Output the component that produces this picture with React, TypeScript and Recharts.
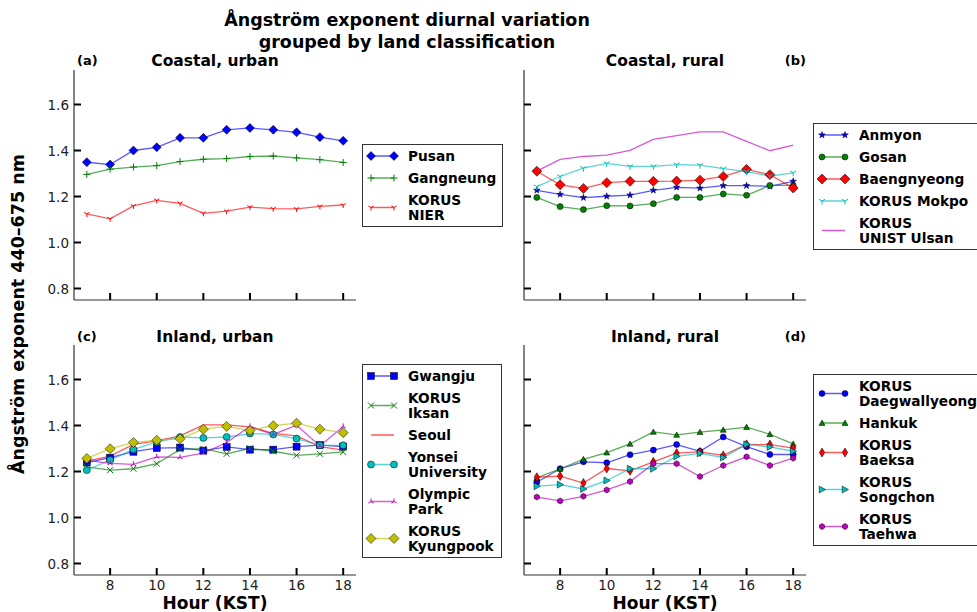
import React from 'react';
import { LineChart, Line, XAxis, YAxis } from 'recharts';

// hours of day (KST)
const hours = [7, 8, 9, 10, 11, 12, 13, 14, 15, 16, 17, 18];
const xTicks = [8, 10, 12, 14, 16, 18];
const yTicks = [0.8, 1.0, 1.2, 1.4, 1.6];

// (a) coastal, urban
const pusan = [1.349, 1.339, 1.4, 1.414, 1.455, 1.455, 1.49, 1.498, 1.49, 1.479, 1.458, 1.442];
const gangneung = [1.296, 1.319, 1.328, 1.334, 1.352, 1.362, 1.365, 1.374, 1.376, 1.368, 1.36, 1.348];
const korusNier = [1.124, 1.103, 1.159, 1.183, 1.17, 1.127, 1.136, 1.154, 1.147, 1.146, 1.157, 1.163];

// (b) coastal, rural
const anmyon = [1.227, 1.209, 1.195, 1.201, 1.206, 1.227, 1.24, 1.236, 1.247, 1.247, 1.244, 1.266];
const gosan = [1.196, 1.156, 1.143, 1.16, 1.159, 1.169, 1.196, 1.196, 1.211, 1.205, 1.248, 1.248];
const baengnyeong = [1.31, 1.251, 1.235, 1.26, 1.266, 1.266, 1.267, 1.271, 1.287, 1.318, 1.295, 1.237];
const korusMokpo = [1.243, 1.287, 1.323, 1.344, 1.331, 1.331, 1.339, 1.336, 1.321, 1.308, 1.289, 1.303];
const korusUlsan = [1.31, 1.361, 1.374, 1.38, 1.401, 1.448, 1.465, 1.481, 1.481, 1.44, 1.399, 1.423];

// (c) inland, urban
const gwangju = [1.239, 1.26, 1.286, 1.302, 1.304, 1.291, 1.307, 1.295, 1.295, 1.308, 1.315, 1.308];
const korusIksan = [1.22, 1.206, 1.212, 1.234, 1.296, 1.299, 1.277, 1.301, 1.288, 1.27, 1.277, 1.285];
const seoul = [1.245, 1.267, 1.318, 1.333, 1.355, 1.403, 1.403, 1.394, 1.366, 1.355, 1.308, 1.293];
const yonsei = [1.206, 1.25, 1.296, 1.328, 1.35, 1.346, 1.35, 1.365, 1.361, 1.343, 1.314, 1.314];
const olympicPark = [1.248, 1.235, 1.231, 1.264, 1.261, 1.28, 1.326, 1.396, 1.361, 1.401, 1.311, 1.396];
const korusKyungpook = [1.257, 1.299, 1.326, 1.336, 1.342, 1.384, 1.396, 1.378, 1.399, 1.41, 1.384, 1.369];

// (d) inland, rural
const daegwallyeong = [1.153, 1.212, 1.242, 1.238, 1.273, 1.293, 1.317, 1.288, 1.35, 1.308, 1.274, 1.274];
const hankuk = [1.172, 1.212, 1.253, 1.282, 1.32, 1.372, 1.359, 1.371, 1.381, 1.393, 1.362, 1.32];
const korusBaeksa = [1.175, 1.18, 1.15, 1.213, 1.203, 1.242, 1.28, 1.285, 1.27, 1.318, 1.317, 1.302];
const korusSongchon = [1.136, 1.143, 1.124, 1.161, 1.212, 1.212, 1.266, 1.279, 1.261, 1.318, 1.307, 1.288];
const korusTaehwa = [1.089, 1.072, 1.092, 1.12, 1.156, 1.234, 1.234, 1.178, 1.226, 1.264, 1.226, 1.258];

const FONT = '"DejaVu Sans", sans-serif';
const X_DOMAIN: [number, number] = [6.45, 18.55];
const Y_DOMAIN: [number, number] = [0.75, 1.75];

type Shape = 'D' | 'd' | 'o' | 's' | '^' | '>' | 'h' | '*' | '+' | 'x' | '1' | '2' | 'none';

interface Series {
  label: string;
  values: number[];
  color: string;
  shape: Shape;
  size: number;
}

function Marker({ shape, cx, cy, size, color }: { shape: Shape; cx: number; cy: number; size: number; color: string }) {
  const r = size / 2;
  const edge = { stroke: '#000', strokeWidth: 0.5, fill: color };
  const thin = { stroke: color, strokeWidth: 1, fill: 'none' };
  const pts = (arr: number[][]) => arr.map((p) => `${cx + p[0]},${cy + p[1]}`).join(' ');
  switch (shape) {
    case 'D':
      return <polygon points={pts([[0, -r], [r, 0], [0, r], [-r, 0]])} {...edge} />;
    case 'd':
      return <polygon points={pts([[0, -r], [r * 0.6, 0], [0, r], [-r * 0.6, 0]])} {...edge} />;
    case 'o':
      return <circle cx={cx} cy={cy} r={r} {...edge} />;
    case 's':
      return <rect x={cx - r} y={cy - r} width={size} height={size} {...edge} />;
    case '^':
      return <polygon points={pts([[0, -r], [r, r * 0.8], [-r, r * 0.8]])} {...edge} />;
    case '>':
      return <polygon points={pts([[r, 0], [-r * 0.8, -r], [-r * 0.8, r]])} {...edge} />;
    case 'h': {
      const h: number[][] = [];
      for (let k = 0; k < 6; k++) {
        const a = (Math.PI / 3) * k + Math.PI / 2;
        h.push([r * Math.cos(a), r * Math.sin(a)]);
      }
      return <polygon points={pts(h)} {...edge} />;
    }
    case '*': {
      const s: number[][] = [];
      for (let k = 0; k < 10; k++) {
        const a = (Math.PI / 5) * k - Math.PI / 2;
        const rr = k % 2 === 0 ? r : r * 0.4;
        s.push([rr * Math.cos(a), rr * Math.sin(a)]);
      }
      return <polygon points={pts(s)} {...edge} />;
    }
    case '+':
      return (
        <g {...thin}>
          <line x1={cx - r} y1={cy} x2={cx + r} y2={cy} />
          <line x1={cx} y1={cy - r} x2={cx} y2={cy + r} />
        </g>
      );
    case 'x':
      return (
        <g {...thin}>
          <line x1={cx - r} y1={cy - r} x2={cx + r} y2={cy + r} />
          <line x1={cx - r} y1={cy + r} x2={cx + r} y2={cy - r} />
        </g>
      );
    case '1':
      return (
        <g {...thin}>
          <line x1={cx} y1={cy} x2={cx} y2={cy + r} />
          <line x1={cx} y1={cy} x2={cx - r * 0.87} y2={cy - r * 0.5} />
          <line x1={cx} y1={cy} x2={cx + r * 0.87} y2={cy - r * 0.5} />
        </g>
      );
    case '2':
      return (
        <g {...thin}>
          <line x1={cx} y1={cy} x2={cx} y2={cy - r} />
          <line x1={cx} y1={cy} x2={cx - r * 0.87} y2={cy + r * 0.5} />
          <line x1={cx} y1={cy} x2={cx + r * 0.87} y2={cy + r * 0.5} />
        </g>
      );
    default:
      return null;
  }
}

const panelA: Series[] = [
  { label: 'Pusan', values: pusan, color: '#0000ff', shape: 'D', size: 9 },
  { label: 'Gangneung', values: gangneung, color: '#008000', shape: '+', size: 7 },
  { label: 'KORUS\nNIER', values: korusNier, color: '#ff0000', shape: '1', size: 6 },
];
const panelB: Series[] = [
  { label: 'Anmyon', values: anmyon, color: '#0000ff', shape: '*', size: 7 },
  { label: 'Gosan', values: gosan, color: '#008000', shape: 'o', size: 6 },
  { label: 'Baengnyeong', values: baengnyeong, color: '#ff0000', shape: 'D', size: 10 },
  { label: 'KORUS Mokpo', values: korusMokpo, color: '#00bfbf', shape: '1', size: 7 },
  { label: 'KORUS\nUNIST Ulsan', values: korusUlsan, color: '#bf00bf', shape: 'none', size: 0 },
];
const panelC: Series[] = [
  { label: 'Gwangju', values: gwangju, color: '#0000ff', shape: 's', size: 7 },
  { label: 'KORUS\nIksan', values: korusIksan, color: '#008000', shape: 'x', size: 6 },
  { label: 'Seoul', values: seoul, color: '#ff0000', shape: 'none', size: 0 },
  { label: 'Yonsei\nUniversity', values: yonsei, color: '#00bfbf', shape: 'o', size: 7 },
  { label: 'Olympic\nPark', values: olympicPark, color: '#bf00bf', shape: '2', size: 6 },
  { label: 'KORUS\nKyungpook', values: korusKyungpook, color: '#bfbf00', shape: 'D', size: 10 },
];
const panelD: Series[] = [
  { label: 'KORUS\nDaegwallyeong', values: daegwallyeong, color: '#0000ff', shape: 'o', size: 6 },
  { label: 'Hankuk', values: hankuk, color: '#008000', shape: '^', size: 6 },
  { label: 'KORUS\nBaeksa', values: korusBaeksa, color: '#ff0000', shape: 'd', size: 9 },
  { label: 'KORUS\nSongchon', values: korusSongchon, color: '#00bfbf', shape: '>', size: 7 },
  { label: 'KORUS\nTaehwa', values: korusTaehwa, color: '#bf00bf', shape: 'h', size: 6 },
];

const TICK_LEN = 7;

function Panel({
  left,
  top,
  width,
  height,
  series,
  xLabels,
  yLabels,
}: {
  left: number;
  top: number;
  width: number;
  height: number;
  series: Series[];
  xLabels: boolean;
  yLabels: boolean;
}) {
  const rows = hours.map((h, i) => {
    const row: Record<string, number> = { hour: h };
    series.forEach((s, j) => {
      row['s' + j] = s.values[i];
    });
    return row;
  });

  const bottomTick = (p: any) => (
    <g>
      <line x1={p.x} y1={p.y} x2={p.x} y2={p.y - TICK_LEN} stroke="#000" strokeWidth={2} />
      {xLabels && (
        <text x={p.x} y={p.y + 15} textAnchor="middle" fontSize={13.5} fill="#222" fontFamily={FONT}>
          {p.payload.value}
        </text>
      )}
    </g>
  );
  const topTick = (p: any) => (
    <line x1={p.x} y1={p.y} x2={p.x} y2={p.y + TICK_LEN} stroke="#000" strokeWidth={2} />
  );
  const leftTick = (p: any) => (
    <g>
      <line x1={p.x} y1={p.y} x2={p.x + TICK_LEN} y2={p.y} stroke="#000" strokeWidth={2} />
      {yLabels && (
        <text x={p.x - 5} y={p.y + 5} textAnchor="end" fontSize={13.5} fill="#222" fontFamily={FONT}>
          {Number(p.payload.value).toFixed(1)}
        </text>
      )}
    </g>
  );
  const rightTick = (p: any) => (
    <line x1={p.x} y1={p.y} x2={p.x - TICK_LEN} y2={p.y} stroke="#000" strokeWidth={2} />
  );
  const axisLine = { stroke: '#333', strokeWidth: 1.2 };

  return (
    <div style={{ position: 'absolute', left: left - 50, top: top - 10 }}>
      <LineChart
        width={width + 60}
        height={height + 40}
        data={rows}
        margin={{ top: 10, right: 10, bottom: 0, left: 0 }}
      >
        <XAxis
          xAxisId={0}
          dataKey="hour"
          type="number"
          domain={X_DOMAIN}
          ticks={xTicks}
          interval={0}
          allowDataOverflow
          height={30}
          tickSize={0}
          tickMargin={0}
          tickLine={false}
          axisLine={axisLine}
          tick={bottomTick}
        />
        <XAxis
          xAxisId="top"
          orientation="top"
          type="number"
          domain={X_DOMAIN}
          ticks={xTicks}
          interval={0}
          allowDataOverflow
          height={0}
          tickSize={0}
          tickMargin={0}
          tickLine={false}
          axisLine={axisLine}
          tick={topTick}
        />
        <YAxis
          yAxisId={0}
          type="number"
          domain={Y_DOMAIN}
          ticks={yTicks}
          interval={0}
          allowDataOverflow
          width={50}
          tickSize={0}
          tickMargin={0}
          tickLine={false}
          axisLine={axisLine}
          tick={leftTick}
        />
        <YAxis
          yAxisId="right"
          orientation="right"
          type="number"
          domain={Y_DOMAIN}
          ticks={yTicks}
          interval={0}
          allowDataOverflow
          width={0}
          tickSize={0}
          tickMargin={0}
          tickLine={false}
          axisLine={axisLine}
          tick={rightTick}
        />
        {series.map((s, j) => (
          <Line
            key={s.label}
            xAxisId={0}
            yAxisId={0}
            type="linear"
            dataKey={'s' + j}
            stroke={s.color}
            strokeOpacity={0.65}
            strokeWidth={1.3}
            isAnimationActive={false}
            activeDot={false}
            dot={
              s.shape === 'none'
                ? false
                : (p: any) => (
                    <Marker key={'m' + p.index} shape={s.shape} cx={p.cx} cy={p.cy} size={s.size} color={s.color} />
                  )
            }
          />
        ))}
      </LineChart>
    </div>
  );
}

function LegendBox({ left, top, width, series }: { left: number; top: number; width: number; series: Series[] }) {
  return (
    <div
      style={{
        position: 'absolute',
        left,
        top,
        width,
        border: '1px solid #333',
        background: '#fff',
        boxSizing: 'border-box',
      }}
    >
      {series.map((s) => {
        const lines = s.label.split('\n').length;
        const h = lines * 15 + 7;
        return (
          <div key={s.label} style={{ position: 'relative', height: h }}>
            <svg width={40} height={h} style={{ position: 'absolute', left: 0, top: 0 }}>
              <line x1={8} y1={h / 2} x2={31} y2={h / 2} stroke={s.color} strokeOpacity={0.65} strokeWidth={1.5} />
              {s.shape !== 'none' && (
                <>
                  <Marker shape={s.shape} cx={8} cy={h / 2} size={s.size} color={s.color} />
                  <Marker shape={s.shape} cx={31} cy={h / 2} size={s.size} color={s.color} />
                </>
              )}
            </svg>
            <div
              style={{
                position: 'absolute',
                left: 45,
                top: 3.5,
                whiteSpace: 'pre',
                lineHeight: '15px',
                fontFamily: FONT,
                fontWeight: 'bold',
                fontSize: 13.7,
                color: '#000',
              }}
            >
              {s.label}
            </div>
          </div>
        );
      })}
    </div>
  );
}

export default function App() {
  const boldText = { fontFamily: FONT, fontWeight: 'bold' as const, fill: '#000' };
  return (
    <div
      style={{
        position: 'absolute',
        left: 0,
        top: 0,
        width: 977,
        height: 612,
        overflow: 'hidden',
        background: '#fff',
      }}
    >
      <Panel left={74} top={70} width={282} height={230} series={panelA} xLabels={false} yLabels />
      <Panel left={524} top={70} width={282} height={230} series={panelB} xLabels={false} yLabels={false} />
      <Panel left={74} top={345} width={282} height={230} series={panelC} xLabels yLabels />
      <Panel left={524} top={345} width={282} height={230} series={panelD} xLabels yLabels={false} />

      <LegendBox left={362} top={144} width={141} series={panelA} />
      <LegendBox left={813} top={123} width={180} series={panelB} />
      <LegendBox left={362} top={364} width={140} series={panelC} />
      <LegendBox left={813} top={374} width={180} series={panelD} />

      <svg
        width={977}
        height={612}
        style={{ position: 'absolute', left: 0, top: 0, pointerEvents: 'none' }}
      >
        <text x={407} y={26} textAnchor="middle" fontSize={17.5} {...boldText}>
          Ångström exponent diurnal variation
        </text>
        <text x={407} y={48} textAnchor="middle" fontSize={17.5} {...boldText}>
          grouped by land classification
        </text>

        <text x={215} y={66} textAnchor="middle" fontSize={15.5} {...boldText}>
          Coastal, urban
        </text>
        <text x={665} y={66} textAnchor="middle" fontSize={15.5} {...boldText}>
          Coastal, rural
        </text>
        <text x={215} y={342} textAnchor="middle" fontSize={15.5} {...boldText}>
          Inland, urban
        </text>
        <text x={665} y={342} textAnchor="middle" fontSize={15.5} {...boldText}>
          Inland, rural
        </text>

        <text x={77} y={65} fontSize={13} {...boldText}>(a)</text>
        <text x={806} y={65} textAnchor="end" fontSize={13} {...boldText}>(b)</text>
        <text x={77} y={341} fontSize={13} {...boldText}>(c)</text>
        <text x={806} y={341} textAnchor="end" fontSize={13} {...boldText}>(d)</text>

        <text x={215} y={609} textAnchor="middle" fontSize={17} {...boldText}>
          Hour (KST)
        </text>
        <text x={665} y={609} textAnchor="middle" fontSize={17} {...boldText}>
          Hour (KST)
        </text>

        <text
          x={0}
          y={0}
          transform="translate(24, 314) rotate(-90)"
          textAnchor="middle"
          fontSize={17.5}
          {...boldText}
        >
          Ångström exponent 440–675 nm
        </text>
      </svg>
    </div>
  );
}
